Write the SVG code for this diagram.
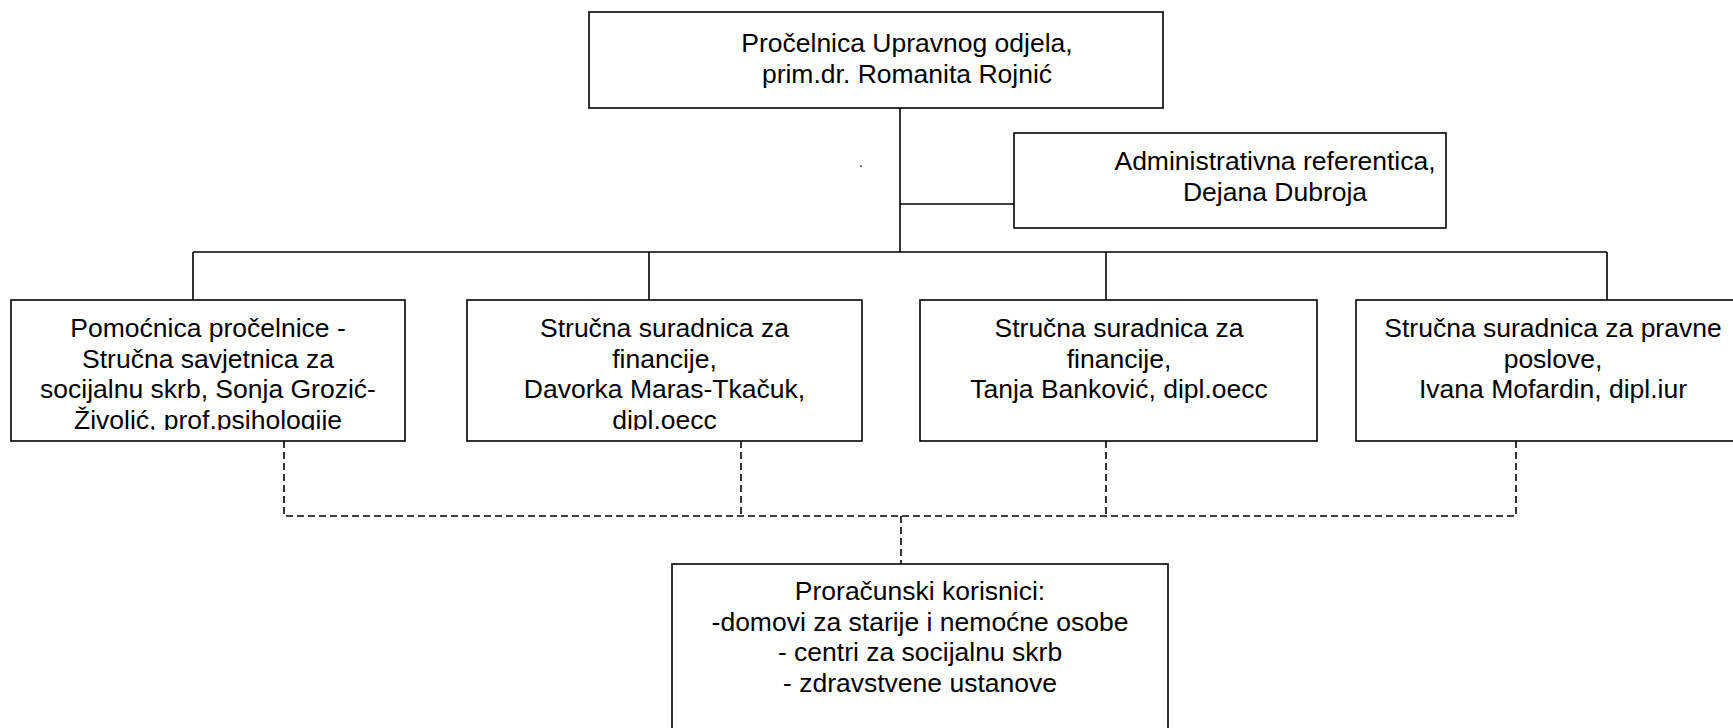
<svg xmlns="http://www.w3.org/2000/svg" width="1733" height="728" viewBox="0 0 1733 728">
<style>
.box{fill:#fff;stroke:#000;stroke-width:1.6}
.t{font-family:"Liberation Sans",Arial,sans-serif;font-size:26.5px;fill:#000;text-anchor:middle}
.ln{fill:none;stroke:#000;stroke-width:1.6}
.dash{fill:none;stroke:#000;stroke-width:1.6;stroke-dasharray:7 4}
</style>
<defs>
<clipPath id="clipRow"><rect x="0" y="300" width="1733" height="130"/></clipPath>
</defs>
<rect width="1733" height="728" fill="#fff"/>
<g id="connectors">
<path class="ln" d="M900 108V252M900 204H1014M193 252H1607M193 252V300M649 252V300M1106 252V300M1607 252V300"/>
<path class="dash" d="M284 441V516H1516M741 441V516M1106 441V516M1516 441V516M901 516V564"/>
</g>
<text class="t" x="861" y="167" style="font-size:14px">.</text>
<g id="n-head">
<rect class="box" x="589" y="12" width="574" height="96"/>
<text class="t"><tspan x="907" y="51.5">Pročelnica Upravnog odjela,</tspan><tspan x="907" y="82.5">prim.dr. Romanita Rojnić</tspan></text>
</g>
<g id="n-admin">
<rect class="box" x="1014" y="133" width="432" height="95"/>
<text class="t"><tspan x="1275" y="170">Administrativna referentica,</tspan><tspan x="1275" y="201">Dejana Dubroja</tspan></text>
</g>
<g id="n-pomocnica">
<rect class="box" x="11" y="300" width="394" height="141"/>
<text class="t" clip-path="url(#clipRow)"><tspan x="208" y="337">Pomoćnica pročelnice -</tspan><tspan x="208" y="367.5">Stručna savjetnica za</tspan><tspan x="208" y="398">socijalnu skrb, Sonja Grozić-</tspan><tspan x="208" y="428.5">Živolić, prof.psihologije</tspan></text>
</g>
<g id="n-davorka">
<rect class="box" x="467" y="300" width="395" height="141"/>
<text class="t" clip-path="url(#clipRow)"><tspan x="664.5" y="337">Stručna suradnica za</tspan><tspan x="664.5" y="367.5">financije,</tspan><tspan x="664.5" y="398">Davorka Maras-Tkačuk,</tspan><tspan x="664.5" y="428.5">dipl.oecc</tspan></text>
</g>
<g id="n-tanja">
<rect class="box" x="920" y="300" width="397" height="141"/>
<text class="t"><tspan x="1119" y="337">Stručna suradnica za</tspan><tspan x="1119" y="367.5">financije,</tspan><tspan x="1119" y="398">Tanja Banković, dipl.oecc</tspan></text>
</g>
<g id="n-ivana">
<rect class="box" x="1356" y="300" width="396" height="141"/>
<text class="t"><tspan x="1553" y="337">Stručna suradnica za pravne</tspan><tspan x="1553" y="367.5">poslove,</tspan><tspan x="1553" y="398">Ivana Mofardin, dipl.iur</tspan></text>
</g>
<g id="n-korisnici">
<rect class="box" x="672" y="564" width="496" height="180"/>
<text class="t"><tspan x="920" y="600">Proračunski korisnici:</tspan><tspan x="920" y="630.5">-domovi za starije i nemoćne osobe</tspan><tspan x="920" y="661">- centri za socijalnu skrb</tspan><tspan x="920" y="691.5">- zdravstvene ustanove</tspan></text>
</g>
</svg>
